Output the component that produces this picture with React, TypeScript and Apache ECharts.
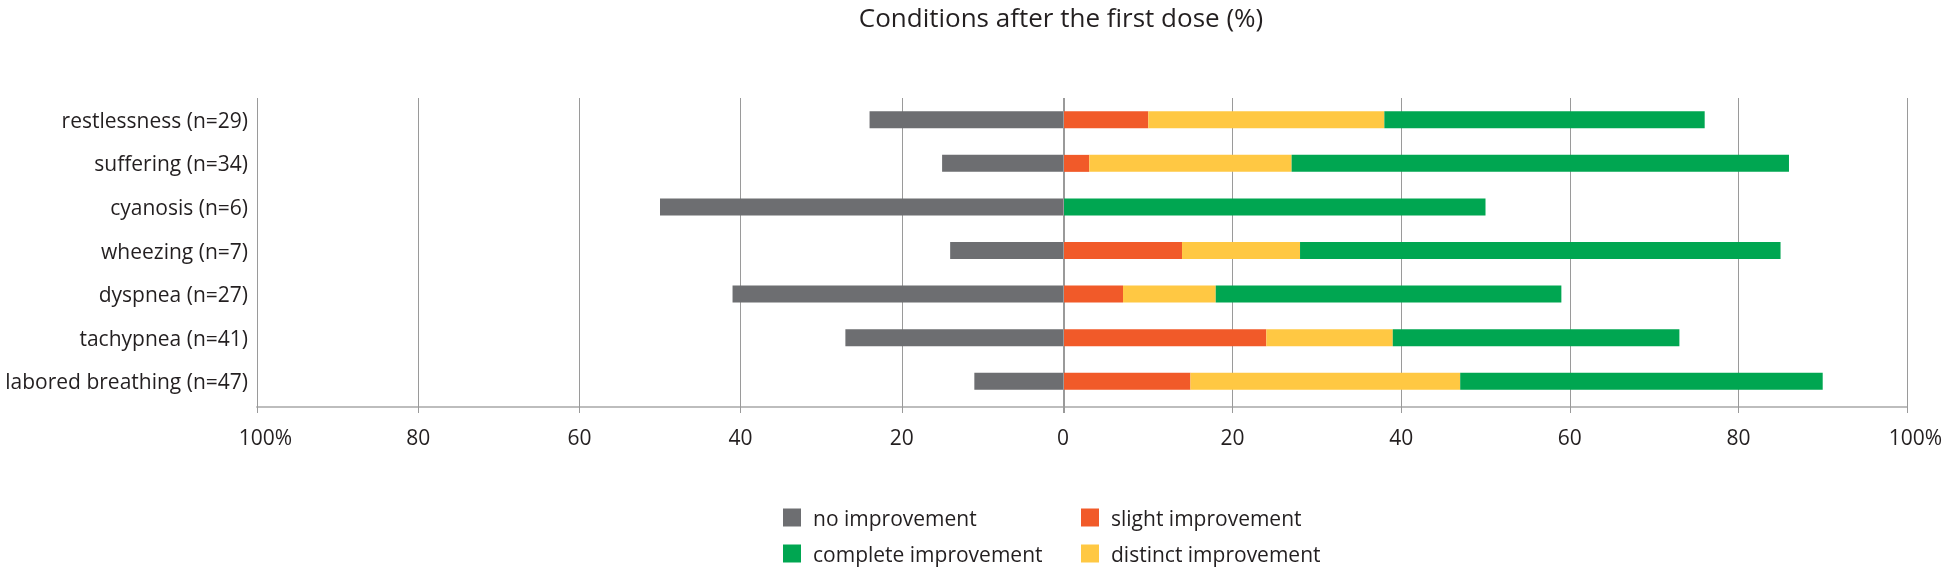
import React, { useEffect, useRef } from "react";
import * as echarts from "echarts";

const categories = [
  "restlessness (n=29)",
  "suffering (n=34)",
  "cyanosis (n=6)",
  "wheezing (n=7)",
  "dyspnea (n=27)",
  "tachypnea (n=41)",
  "labored breathing (n=47)",
];
const noImprovement = [24, 15, 50, 14, 41, 27, 11];
const slightImprovement = [10, 3, 0, 14, 7, 24, 15];
const distinctImprovement = [28, 24, 0, 14, 11, 15, 32];
const completeImprovement = [38, 59, 50, 57, 41, 34, 43];

const legendNames = [
  "no improvement",
  "slight improvement",
  "complete improvement",
  "distinct improvement",
];

const FONT = "'Open Sans', 'Noto Sans', sans-serif";
const TXT = "#231f20";
const GRID_C = "#9a9a9a";
const AXIS_C = "#bdbdbd";
const COLORS = {
  no: "#6d6e71",
  slight: "#f15a29",
  distinct: "#ffc843",
  complete: "#00a651",
};

export default function App() {
  const ref = useRef<HTMLDivElement>(null);
  useEffect(() => {
    if (!ref.current) return;
    const chart = echarts.init(ref.current, undefined, { renderer: "svg" });
    const labelRich = {
      p: { padding: [0, 0, 0, 17], fontSize: 21, fontFamily: FONT, color: TXT },
    };
    const gridTop = 98;
    const gridH = 305;
    const mainX = (grid: number, min: number, max: number, fmt: (v: number) => string) => ({
      type: "value",
      gridIndex: grid,
      min,
      max,
      interval: 20,
      position: "bottom",
      offset: 4,
      axisLine: { show: true, onZero: false, lineStyle: { color: AXIS_C, width: 2 } },
      axisTick: { show: true, inside: true, length: gridH + 4, lineStyle: { color: GRID_C, width: 1 } },
      splitLine: { show: false },
      axisLabel: {
        show: true,
        margin: 19,
        fontSize: 21,
        fontFamily: FONT,
        color: TXT,
        formatter: fmt,
        rich: labelRich,
      },
    });
    const tickX = (grid: number, min: number, max: number) => ({
      type: "value",
      gridIndex: grid,
      min,
      max,
      interval: 20,
      position: "bottom",
      offset: 4,
      axisLine: { show: false },
      axisTick: { show: true, inside: false, length: 6, lineStyle: { color: GRID_C, width: 1 } },
      splitLine: { show: false },
      axisLabel: { show: false },
    });
    const legendPos = [
      { left: 783, top: 507 },
      { left: 1081, top: 507 },
      { left: 783, top: 543 },
      { left: 1081, top: 543 },
    ];
    chart.setOption({
      animation: false,
      title: {
        text: "Conditions after the first dose (%)",
        left: 1061,
        top: 2,
        padding: 0,
        textAlign: "center",
        textStyle: { fontFamily: FONT, fontSize: 26, fontWeight: "normal", color: TXT, lineHeight: 30 },
      },
      legend: legendNames.map((name, i) => ({
        orient: "horizontal",
        left: legendPos[i].left,
        top: legendPos[i].top,
        padding: 0,
        itemWidth: 18,
        itemHeight: 18,
        icon: "rect",
        data: [name],
        textStyle: { fontFamily: FONT, fontSize: 21, color: TXT, padding: [0, 0, 0, 7] },
      })),
      grid: [
        { left: 257, top: gridTop, width: 806, height: gridH },
        { left: 1064, top: gridTop, width: 843, height: gridH },
      ],
      xAxis: [
        mainX(0, -100, 0, (v: number) => (v === -100 ? "{p|100%}" : String(Math.abs(v)))),
        mainX(1, 0, 100, (v: number) => (v === 0 ? "" : v === 100 ? "{p|100%}" : String(v))),
        tickX(0, -100, 0),
        tickX(1, 0, 100),
      ],
      yAxis: [
        {
          type: "category",
          gridIndex: 0,
          data: categories,
          inverse: true,
          axisLine: { show: false },
          axisTick: { show: false },
          splitLine: { show: false },
          axisLabel: { margin: 9, fontSize: 21, fontFamily: FONT, color: TXT },
        },
        {
          type: "category",
          gridIndex: 1,
          data: categories,
          inverse: true,
          show: false,
        },
      ],
      series: [
        {
          name: "no improvement",
          type: "bar",
          xAxisIndex: 0,
          yAxisIndex: 0,
          barWidth: 17,
          data: noImprovement.map((v) => -v),
          itemStyle: { color: COLORS.no },
        },
        {
          name: "slight improvement",
          type: "bar",
          stack: "pos",
          xAxisIndex: 1,
          yAxisIndex: 1,
          barWidth: 17,
          data: slightImprovement,
          itemStyle: { color: COLORS.slight },
        },
        {
          name: "distinct improvement",
          type: "bar",
          stack: "pos",
          xAxisIndex: 1,
          yAxisIndex: 1,
          barWidth: 17,
          data: distinctImprovement,
          itemStyle: { color: COLORS.distinct },
        },
        {
          name: "complete improvement",
          type: "bar",
          stack: "pos",
          xAxisIndex: 1,
          yAxisIndex: 1,
          barWidth: 17,
          data: completeImprovement,
          itemStyle: { color: COLORS.complete },
        },
      ],
    });
    return () => chart.dispose();
  }, []);
  return (
    <div
      ref={ref}
      style={{ position: "fixed", left: 0, top: 0, width: 1946, height: 567 }}
    />
  );
}
